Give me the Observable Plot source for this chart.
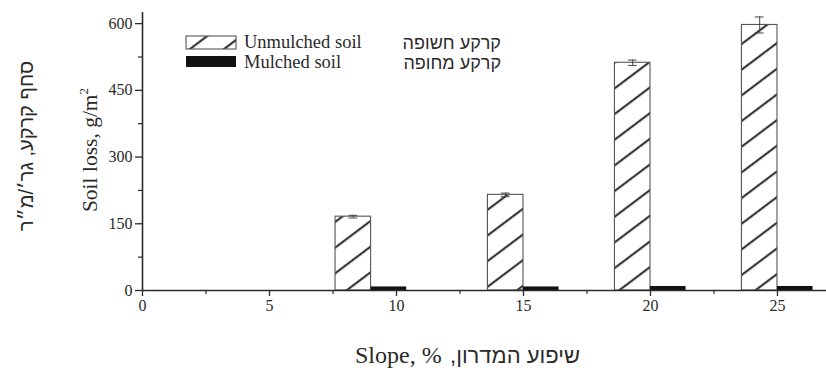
<!DOCTYPE html>
<html>
<head>
<meta charset="utf-8">
<script src="https://cdn.jsdelivr.net/npm/d3@7"></script>
<script src="https://cdn.jsdelivr.net/npm/@observablehq/plot@0.6"></script>
<style>
  html, body { margin: 0; padding: 0; background: #fff; }
  #chart { position: relative; width: 826px; height: 375px; overflow: hidden; }
  #chart svg { display: block; }
</style>
</head>
<body>
<div id="chart"></div>
<script>
// Soil loss by slope, unmulched vs mulched plots
const slopes = [9, 15, 20, 25];
const unmulched = [166, 215, 512, 597];
const unmulchedErr = [3, 4, 6, 18];
const mulched = [8, 8, 9, 9];

const xTicks = [0, 5, 10, 15, 20, 25];
const xMinor = [2.5, 7.5, 12.5, 17.5, 22.5];
const yTicks = [0, 150, 300, 450, 600];
const yMinor = [75, 225, 375, 525];

const seriesLabels = ["Unmulched soil", "Mulched soil"];
const seriesLabelsHe = ["קרקע חשופה", "קרקע מחופה"];
const yLabel = "Soil loss, g/m";
const yLabelHe = "סחף קרקע, גר׳/מ״ר";
const xLabel = "Slope, %";
const xLabelHe = "שיפוע המדרון,";

const barW = 1.4;
const rows = slopes.map((s, i) => ({
  slope: s,
  u: unmulched[i],
  err: unmulchedErr[i],
  m: mulched[i]
}));

const serif = "'Liberation Serif', 'Times New Roman', serif";
const sans = "'Liberation Sans', 'DejaVu Sans', sans-serif";
const ink = "#2a2a2a";

const svg = Plot.plot({
  width: 826,
  height: 375,
  marginLeft: 142,
  marginRight: 0,
  marginTop: 12,
  marginBottom: 85,
  style: { fontFamily: serif, fontSize: "13px", color: ink, background: "#fff", overflow: "visible" },
  x: { domain: [0, 26.93], axis: null },
  y: { domain: [0, 625], axis: null },
  marks: [
    // unmulched bars (hatched), left of the slope value
    Plot.rectY(rows, { x1: d => d.slope - barW, x2: d => d.slope, y1: 0, y2: "u",
      fill: "url(#hatch)", stroke: "#555", strokeWidth: 1.1 }),
    // mulched bars (solid), right of the slope value
    Plot.rectY(rows, { x1: "slope", x2: d => d.slope + barW, y1: 0, y2: "m", fill: "#111" }),
    // error bars
    Plot.ruleX(rows, { x: d => d.slope - barW / 2, y1: d => d.u - d.err, y2: d => d.u + d.err,
      stroke: "#444", strokeWidth: 1 }),
    Plot.ruleY(rows, { y: d => d.u + d.err, x1: d => d.slope - barW / 2 - 0.17, x2: d => d.slope - barW / 2 + 0.17,
      stroke: "#444", strokeWidth: 1 }),
    Plot.ruleY(rows, { y: d => d.u - d.err, x1: d => d.slope - barW / 2 - 0.17, x2: d => d.slope - barW / 2 + 0.17,
      stroke: "#444", strokeWidth: 1 }),
    // axes
    Plot.axisX(xTicks, { label: null, tickSize: 6, tickPadding: 3, fontSize: 16, stroke: ink, strokeWidth: 1.3, fill: ink }),
    Plot.axisX(xMinor, { label: null, tickSize: 4, text: null, stroke: ink, strokeWidth: 1.2 }),
    Plot.axisY(yTicks, { label: null, tickSize: 7, tickPadding: 3, fontSize: 16, stroke: ink, strokeWidth: 1.3, fill: ink }),
    Plot.axisY(yMinor, { label: null, tickSize: 4, text: null, stroke: ink, strokeWidth: 1.2 }),
    Plot.ruleY([0], { stroke: ink, strokeWidth: 1.6 }),
    Plot.ruleX([0], { stroke: ink, strokeWidth: 1.6 })
  ]
});

document.getElementById("chart").appendChild(svg);

// hatch pattern used by the unmulched bars and the legend swatch
const root = d3.select(svg);
const defs = root.insert("defs", ":first-child");
const pat = defs.append("pattern")
  .attr("id", "hatch")
  .attr("patternUnits", "userSpaceOnUse")
  .attr("width", 60)
  .attr("height", 20.5)
  .attr("patternTransform", "rotate(-37)");
pat.append("rect").attr("width", 60).attr("height", 20.5).attr("fill", "#fff");
pat.append("line").attr("x1", 0).attr("x2", 60).attr("y1", 10).attr("y2", 10)
  .attr("stroke", "#1e1e1e").attr("stroke-width", 1.8);

// legend
const lg = root.append("g");
const swatchFills = ["url(#hatch)", "#111"];
const swatchY = [36, 56];
const swatchH = [13, 11];
seriesLabels.forEach((label, i) => {
  lg.append("rect").attr("x", 186).attr("y", swatchY[i]).attr("width", 50).attr("height", swatchH[i])
    .attr("fill", swatchFills[i]).attr("stroke", i === 0 ? "#555" : "none").attr("stroke-width", 1.1);
  lg.append("text").attr("x", 244).attr("y", swatchY[i] + 12).text(label)
    .attr("text-anchor", "start")
    .attr("font-family", serif).attr("font-size", 18.5).attr("fill", ink);
  lg.append("text").attr("x", 501).attr("y", swatchY[i] + 13).text(seriesLabelsHe[i])
    .attr("text-anchor", "start").attr("direction", "rtl")
    .attr("font-family", sans).attr("font-size", 18).attr("fill", ink);
});

// axis titles
const yt = root.append("text")
  .attr("transform", "translate(97,150) rotate(-90)")
  .attr("text-anchor", "middle")
  .attr("font-family", serif).attr("font-size", 21.5).attr("fill", ink);
yt.append("tspan").text(yLabel);
yt.append("tspan").text("2").attr("font-size", 13).attr("dy", -9);

root.append("text")
  .attr("transform", "translate(33,146) rotate(-90)")
  .attr("text-anchor", "middle").attr("direction", "rtl")
  .attr("font-family", sans).attr("font-size", 20).attr("fill", ink)
  .text(yLabelHe);

root.append("text")
  .attr("x", 355).attr("y", 363)
  .attr("text-anchor", "start")
  .attr("font-family", serif).attr("font-size", 24).attr("fill", ink)
  .text(xLabel);
root.append("text")
  .attr("x", 580).attr("y", 363)
  .attr("text-anchor", "start").attr("direction", "rtl")
  .attr("font-family", sans).attr("font-size", 22).attr("fill", ink)
  .text(xLabelHe);
</script>
</body>
</html>
